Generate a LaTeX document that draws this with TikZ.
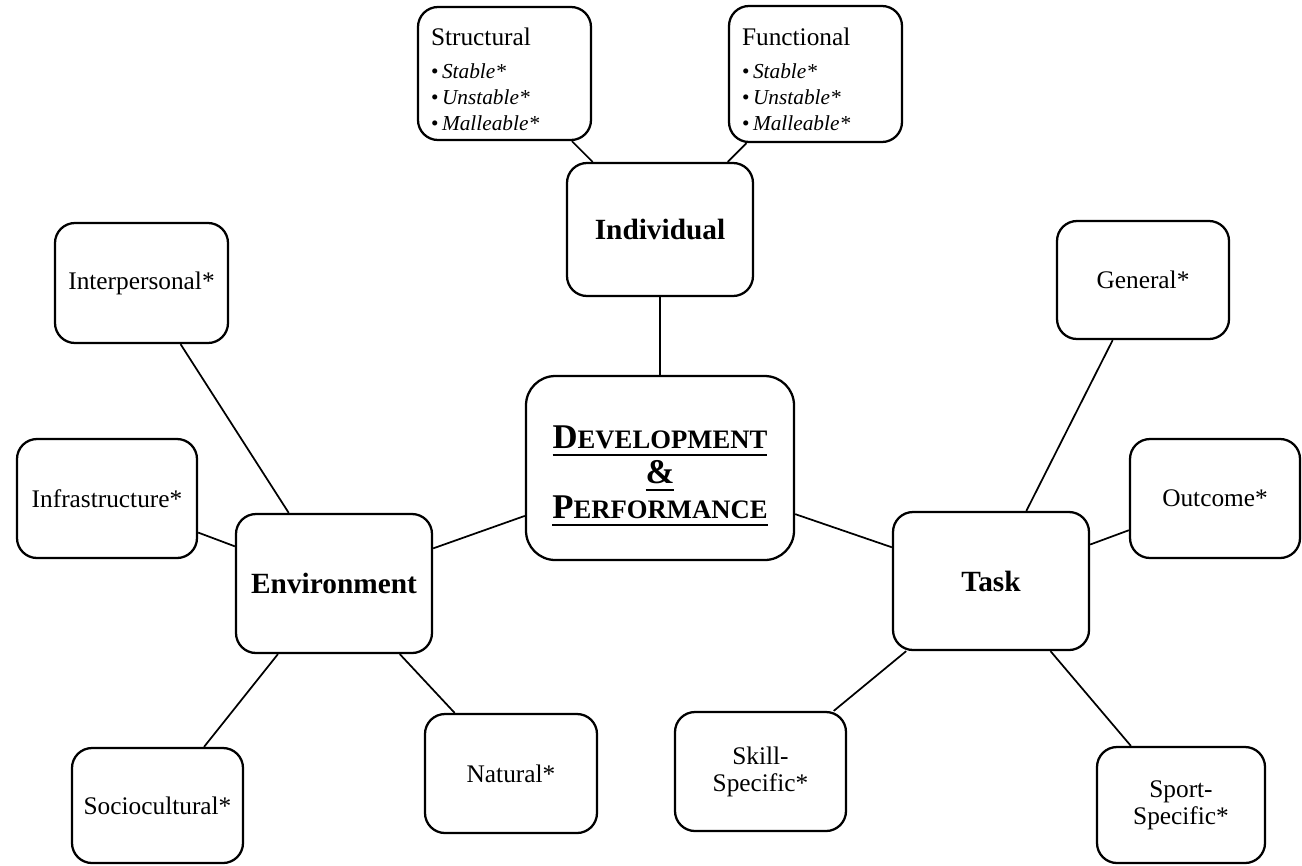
\documentclass[tikz,border=0pt]{standalone}
\usepackage{fontspec}
\setmainfont{Liberation Serif}
% underline with a heavier rule set a little below the baseline
\newcommand{\thickul}[1]{\setbox0\hbox{#1}\rlap{\rule[-5.5pt]{\wd0}{1.8pt}}\box0}
% faked small capitals: large initial, smaller remaining capitals
\newcommand{\bigsc}[2]{{\fontsize{26}{26}\selectfont #1}{\fontsize{20}{20}\selectfont #2}}
\begin{document}
\begin{tikzpicture}[x=0.75pt,y=-0.75pt,
  box/.style={draw=black, line width=1.7pt, rounded corners=15pt, fill=white,
    align=center, inner sep=0pt},
  leaf/.style={box, font=\fontsize{19}{20.25}\selectfont},
  hub/.style={box, font=\bfseries\fontsize{22}{24}\selectfont},
  traits/.style={box, align=left, inner xsep=9.75pt, inner ysep=0pt,
    text width=110.25pt, font=\fontsize{16}{19.5}\selectfont},
  link/.style={line width=1.3pt}]
\useasboundingbox (0,0) rectangle (1302,865);

% central node
\node[box, rounded corners=22pt, minimum width=201pt, minimum height=138pt,
  font=\bfseries\fontsize{26}{26.25}\selectfont] (dev) at (660,468)
  {\rule{0pt}{29pt}\thickul{\bigsc{D}{EVELOPMENT}}\\\thickul{\&}\\\thickul{\bigsc{P}{ERFORMANCE}}};

% the three constraint groups
\node[hub, minimum width=139.5pt, minimum height=99.75pt] (ind) at (660,229.5) {Individual};
\node[hub, minimum width=147pt, minimum height=104.25pt] (env) at (334,583.5) {Environment};
\node[hub, minimum width=147pt, minimum height=103.5pt] (task) at (991,581) {Task};

% individual constraints
\node[traits, minimum height=99.75pt] (str) at (504.5,73.5)
  {\rule{0pt}{21.5pt}{\fontsize{19}{19.5}\selectfont Structural}\\[5.25pt]
   \textbullet\,\textit{Stable*}\\\textbullet\,\textit{Unstable*}\\\textbullet\,\textit{Malleable*}};
\node[traits, minimum height=102pt] (fun) at (815.5,74)
  {\rule{0pt}{21.5pt}{\fontsize{19}{19.5}\selectfont Functional}\\[5.25pt]
   \textbullet\,\textit{Stable*}\\\textbullet\,\textit{Unstable*}\\\textbullet\,\textit{Malleable*}};

% environmental constraints
\node[leaf, minimum width=129.75pt, minimum height=90pt] (interp) at (141.5,283) {Interpersonal*};
\node[leaf, minimum width=135pt, minimum height=89.25pt] (infra) at (107,498.5) {Infrastructure*};
\node[leaf, minimum width=128.25pt, minimum height=86.25pt] (socio) at (157.5,805.5) {Sociocultural*};
\node[leaf, minimum width=129pt, minimum height=89.25pt] (nat) at (511,773.5) {Natural*};

% task constraints
\node[leaf, minimum width=129pt, minimum height=88.5pt] (gen) at (1143,280) {General*};
\node[leaf, minimum width=127.5pt, minimum height=89.25pt] (out) at (1215,498.5) {Outcome*};
\node[leaf, minimum width=128.25pt, minimum height=89.25pt] (skill) at (760.5,771.5) {Skill-\\Specific*};
\node[leaf, minimum width=126pt, minimum height=87pt] (sport) at (1181,805) {Sport-\\Specific*};

% connectors
\draw[link] (dev) -- (ind);
\draw[link] (dev) -- (env);
\draw[link] (dev) -- (task);
\draw[link] (ind) -- (str);
\draw[link] (ind) -- (fun);
\draw[link] (env) -- (interp);
\draw[link] (env) -- (infra);
\draw[link] (env) -- (socio);
\draw[link] (env) -- (nat);
\draw[link] (task) -- (gen);
\draw[link] (task) -- (out);
\draw[link] (task) -- (skill);
\draw[link] (task) -- (sport);
\end{tikzpicture}
\end{document}
